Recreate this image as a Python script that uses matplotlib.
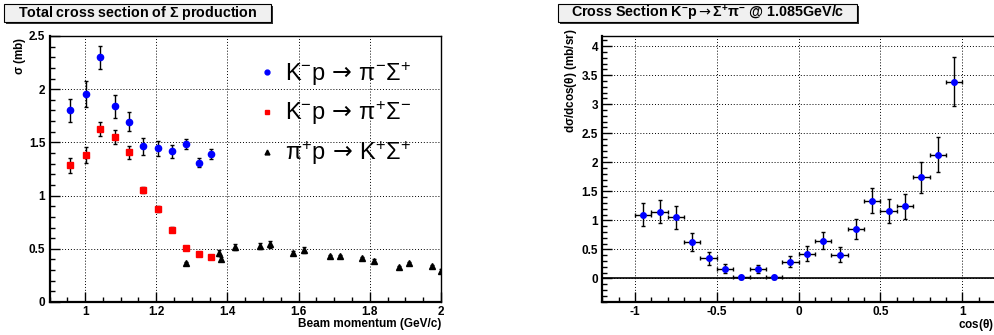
import numpy as np
import matplotlib.pyplot as plt
from matplotlib.patches import Rectangle
from matplotlib.lines import Line2D
from matplotlib.ticker import MultipleLocator, FormatStrFormatter

plt.rcParams['font.family'] = ['Liberation Sans', 'DejaVu Sans']
plt.rcParams['mathtext.fontset'] = 'custom'
plt.rcParams['mathtext.rm'] = 'Liberation Sans'
plt.rcParams['mathtext.it'] = 'Liberation Sans'
plt.rcParams['mathtext.bf'] = 'Liberation Sans:bold'
plt.rcParams['mathtext.sf'] = 'DejaVu Sans'
plt.rcParams['mathtext.default'] = 'regular'
plt.rcParams['mathtext.fallback'] = 'stixsans'

# total cross section, K-p -> pi- Sigma+
p_km1 = [0.958, 1.003, 1.042, 1.083, 1.123, 1.164, 1.205, 1.244, 1.284, 1.319, 1.355]
s_km1 = [1.80, 1.956, 2.30, 1.84, 1.695, 1.463, 1.443, 1.415, 1.485, 1.31, 1.39]
e_km1 = [0.11, 0.12, 0.11, 0.11, 0.09, 0.08, 0.07, 0.06, 0.05, 0.04, 0.045]

# K-p -> pi+ Sigma-
p_km2 = [0.958, 1.003, 1.042, 1.083, 1.123, 1.164, 1.205, 1.244, 1.284, 1.319, 1.355]
s_km2 = [1.283, 1.384, 1.626, 1.547, 1.406, 1.05, 0.872, 0.68, 0.51, 0.447, 0.425]
e_km2 = [0.07, 0.075, 0.07, 0.065, 0.06, 0.03, 0.03, 0.025, 0.015, 0.015, 0.015]

# pi+p -> K+ Sigma+
p_pip = [1.283, 1.377, 1.382, 1.42, 1.491, 1.519, 1.584, 1.615, 1.689, 1.715,
         1.777, 1.812, 1.882, 1.909, 1.975, 2.0]
s_pip = [0.362, 0.462, 0.406, 0.516, 0.528, 0.541, 0.462, 0.488, 0.428, 0.431,
         0.412, 0.39, 0.327, 0.365, 0.334, 0.293]
e_pip = [0.01, 0.03, 0.015, 0.03, 0.03, 0.035, 0.015, 0.03, 0.015, 0.015,
         0.015, 0.015, 0.015, 0.015, 0.015, 0.015]

# differential cross section @ 1.085 GeV/c
cos_th = [-0.95, -0.85, -0.75, -0.65, -0.55, -0.45, -0.35, -0.25, -0.15, -0.05,
          0.05, 0.15, 0.25, 0.35, 0.45, 0.55, 0.65, 0.75, 0.85, 0.95]
dsig = [1.10, 1.15, 1.05, 0.63, 0.35, 0.17, 0.02, 0.17, 0.02, 0.29,
        0.43, 0.65, 0.41, 0.85, 1.34, 1.16, 1.24, 1.74, 2.13, 3.39]
dsig_err = [0.2, 0.2, 0.19, 0.15, 0.11, 0.08, 0.03, 0.07, 0.03, 0.1,
            0.13, 0.15, 0.13, 0.17, 0.22, 0.21, 0.22, 0.26, 0.30, 0.42]
cos_err = 0.05

W, H = 995, 335
fig = plt.figure(figsize=(W / 100, H / 100), dpi=100)


def px_axes(x0, y0, x1, y1):
    return fig.add_axes([x0 / W, 1 - y1 / H, (x1 - x0) / W, (y1 - y0) / H])


def root_style(ax, xmaj, xmin, ymaj, ymin):
    ax.xaxis.set_major_locator(MultipleLocator(xmaj))
    ax.xaxis.set_minor_locator(MultipleLocator(xmin))
    ax.yaxis.set_major_locator(MultipleLocator(ymaj))
    ax.yaxis.set_minor_locator(MultipleLocator(ymin))
    ax.xaxis.set_major_formatter(FormatStrFormatter('%g'))
    ax.yaxis.set_major_formatter(FormatStrFormatter('%g'))
    ax.tick_params(which='both', direction='in', top=False, right=False,
                   labelsize=8.5, width=1, pad=3)
    ax.tick_params(which='major', length=7)
    ax.tick_params(which='minor', length=3.5)
    for lab in ax.get_xticklabels() + ax.get_yticklabels():
        lab.set_fontweight('bold')
    ax.grid(True, which='major', color='black', linestyle=(0, (1, 2)), linewidth=0.7)
    ax.set_axisbelow(True)
    for s in ['left', 'bottom']:
        ax.spines[s].set_linewidth(1.6)
    for s in ['top', 'right']:
        ax.spines[s].set_linewidth(1.0)


def title_box(x0, y0, x1, y1, text):
    fig.patches.append(Rectangle(((x0 + 2) / W, 1 - (y1 + 2) / H), (x1 - x0) / W,
                                 (y1 - y0) / H, transform=fig.transFigure,
                                 facecolor='#303030', edgecolor='none'))
    fig.patches.append(Rectangle((x0 / W, 1 - y1 / H), (x1 - x0) / W, (y1 - y0) / H,
                                 transform=fig.transFigure, facecolor='#f0f0f0',
                                 edgecolor='black', linewidth=0.8))
    fig.text((x0 + x1) / 2 / W, 1 - (y0 + y1) / 2 / H, text, ha='center', va='center',
             fontsize=10.3, fontweight='bold')


# left panel
ax1 = px_axes(49.5, 36, 441, 302)
eb = dict(ecolor='black', elinewidth=1, capsize=1.5, capthick=1, linestyle='none')
ax1.errorbar(p_km1, s_km1, yerr=e_km1, fmt='o', color='#0000ff', markersize=4.5, **eb)
ax1.errorbar(p_km2, s_km2, yerr=e_km2, fmt='s', color='#ff0000', markersize=4.5, **eb)
ax1.errorbar(p_pip, s_pip, yerr=e_pip, fmt='^', color='black', markersize=4, **eb)
ax1.set_xlim(0.9, 2.0)
ax1.set_ylim(0, 2.5)
root_style(ax1, 0.2, 0.05, 0.5, 0.1)

handles = [Line2D([], [], marker='o', color='#0000ff', linestyle='none', markersize=3.5),
           Line2D([], [], marker='s', color='#ff0000', linestyle='none', markersize=3.5),
           Line2D([], [], marker='^', color='black', linestyle='none', markersize=3.5)]
labels = [r'K$^{-}$p$\,\mathsf{\rightarrow}\,\pi^{-}\Sigma^{+}$',
          r'K$^{-}$p$\,\mathsf{\rightarrow}\,\pi^{+}\Sigma^{-}$',
          r'$\pi^{+}$p$\,\mathsf{\rightarrow}\,$K$^{+}\Sigma^{+}$']
ax1.legend(handles, labels, loc='upper left', bbox_to_anchor=(0.494, 0.955),
           frameon=False, fontsize=17, handlelength=1.0, handletextpad=0.3,
           labelspacing=0.5, borderpad=0)

fig.text(20 / W, 1 - 37 / H, r'$\sigma$ (mb)', rotation=90, ha='center', va='top',
         fontsize=8.5, fontweight='bold')
fig.text(441 / W, 1 - 324 / H, 'Beam momentum (GeV/c)', ha='right', va='center',
         fontsize=8.5, fontweight='bold')
title_box(4, 4, 271, 22, r'Total cross section of $\Sigma$ production')

# right panel
ax2 = px_axes(602.3, 35.7, 995, 302.3)
ax2.errorbar(cos_th, dsig, xerr=cos_err, yerr=dsig_err, fmt='o', color='#0000ff',
             markersize=4, **eb)
ax2.axhline(0, color='black', linewidth=1.2)
ax2.set_xlim(-1.2, 1.2)
ax2.set_ylim(-0.41, 4.18)
root_style(ax2, 0.5, 0.1, 0.5, 0.1)

fig.text(571 / W, 1 - 28 / H, r'd$\sigma$/dcos($\theta$) (mb/sr)', rotation=90,
         ha='center', va='top', fontsize=8.5, fontweight='bold')
fig.text(994 / W, 1 - 325 / H, r'cos($\theta$)', ha='right', va='center',
         fontsize=8.5, fontweight='bold')
title_box(558, 4, 857, 22,
          r'Cross Section K$^{-}$p$\mathsf{\rightarrow}\Sigma^{+}\pi^{-}$ @ 1.085GeV/c')

fig.savefig('out.png', dpi=100)
